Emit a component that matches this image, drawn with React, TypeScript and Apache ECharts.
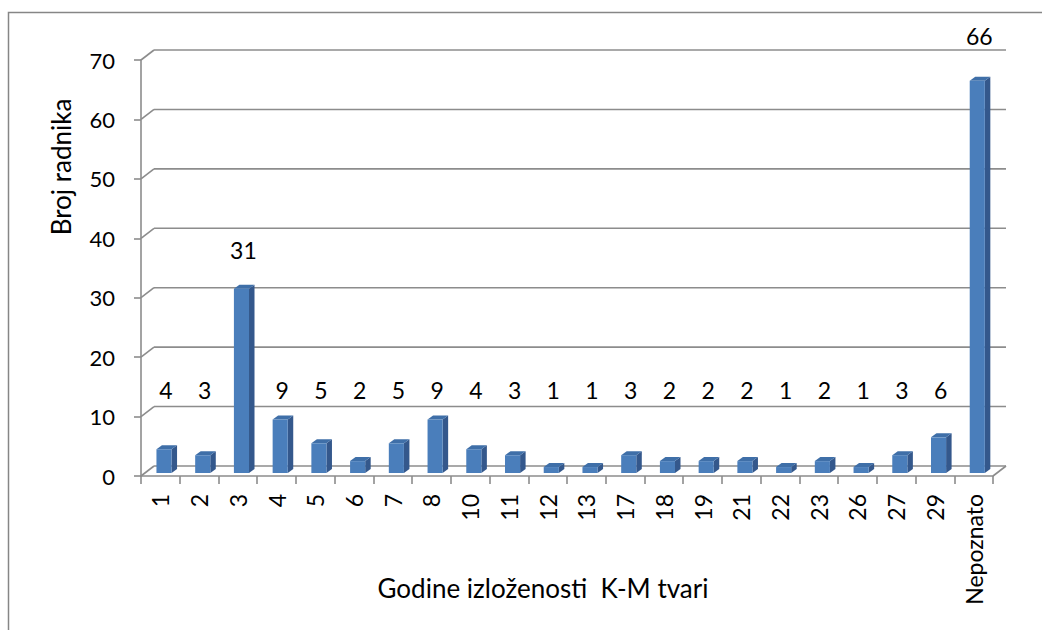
import React, { useEffect, useRef } from "react";
import * as echarts from "echarts";

const categories = ["1", "2", "3", "4", "5", "6", "7", "8", "10", "11", "12", "13", "17", "18", "19", "21", "22", "23", "26", "27", "29", "Nepoznato"];
const values = [4, 3, 31, 9, 5, 2, 5, 9, 4, 3, 1, 1, 3, 2, 2, 2, 1, 2, 1, 3, 6, 66];
const yTicks = [0, 10, 20, 30, 40, 50, 60, 70];
const yAxisTitle = "Broj radnika";
const xAxisTitle = "Godine izloženosti  K-M tvari";

const FONT = "Lato";
const GRID_COLOR = "#8c8c8c";
const WALL_DX = 13;
const WALL_DY = -10;

export default function App() {
  const ref = useRef<HTMLDivElement>(null);
  useEffect(() => {
    if (!ref.current) return;
    const chart = echarts.init(ref.current, undefined, { renderer: "svg" });

    const renderWall = (params: any, api: any) => {
      const v = api.value(1);
      const cs = params.coordSys;
      const y = api.coord([0, v])[1];
      const x0 = cs.x;
      const x1 = cs.x + cs.width;
      const style = { stroke: GRID_COLOR, lineWidth: 1.6, fill: null };
      const children: any[] = [
        { type: "line", shape: { x1: x0, y1: y, x2: x0 + WALL_DX, y2: y + WALL_DY }, style },
        { type: "line", shape: { x1: x0 + WALL_DX, y1: y + WALL_DY, x2: x1 + WALL_DX, y2: y + WALL_DY }, style },
      ];
      if (v === 0) {
        children.push({ type: "line", shape: { x1: x1, y1: y, x2: x1 + WALL_DX, y2: y + WALL_DY }, style });
      }
      return { type: "group", children };
    };

    const renderBar = (params: any, api: any) => {
      const i = api.value(0);
      const v = api.value(1);
      const base = api.coord([i, 0]);
      const top = api.coord([i, v]);
      const bw = api.size([1, 0])[0];
      const w = bw * 0.39;
      const shiftX = WALL_DX * 0.28;
      const shiftY = WALL_DY * 0.3;
      const cx = base[0] + shiftX;
      const xl = cx - w / 2;
      const xr = cx + w / 2;
      const yb = base[1] + shiftY;
      const yt = top[1] + shiftY;
      const ddx = 5.5;
      const ddy = -4;
      const labelVal = v < 15 ? 14.5 : v * 1.03 + 6.1;
      const ly = api.coord([i, labelVal])[1];
      return {
        type: "group",
        children: [
          { type: "polygon", shape: { points: [[xr, yb], [xr + ddx, yb + ddy], [xr + ddx, yt + ddy], [xr, yt]] }, style: { fill: "#34588c" } },
          { type: "polygon", shape: { points: [[xl, yt], [xl + ddx, yt + ddy], [xr + ddx, yt + ddy], [xr, yt]] }, style: { fill: "#3f6fa8" } },
          { type: "rect", shape: { x: xl, y: yt, width: w, height: yb - yt }, style: { fill: "#4a7ebb" } },
          { type: "text", x: cx + 2, y: ly, style: { text: String(v), fill: "#000", fontSize: 23, fontFamily: FONT, align: "center", verticalAlign: "middle" } },
        ],
      };
    };

    chart.setOption({
      animation: false,
      backgroundColor: "#ffffff",
      grid: { left: 141, right: 49, top: 60, bottom: 154 },
      xAxis: {
        type: "category",
        data: categories,
        axisLine: { show: true, lineStyle: { color: GRID_COLOR, width: 1.6 } },
        axisTick: { show: true, length: 8, lineStyle: { color: GRID_COLOR, width: 1.6 } },
        axisLabel: { rotate: 90, margin: 18, fontSize: 23, color: "#000", fontFamily: FONT },
        splitLine: { show: false },
      },
      yAxis: {
        type: "value",
        min: 0,
        max: 70,
        interval: 10,
        axisLine: { show: true, lineStyle: { color: GRID_COLOR, width: 1.6 } },
        axisTick: { show: true, length: 7, lineStyle: { color: GRID_COLOR, width: 1.6 } },
        axisLabel: { margin: 26, fontSize: 22, color: "#000", fontFamily: FONT },
        splitLine: { show: false },
      },
      graphic: [
        { type: "rect", shape: { x: 8.5, y: 12.5, width: 1200, height: 800 }, style: { fill: null, stroke: "#868686", lineWidth: 1.5 }, silent: true, z: -10 },
        { type: "text", x: 61, y: 167, rotation: Math.PI / 2, style: { text: yAxisTitle, fill: "#000", fontSize: 26, fontFamily: FONT, align: "center", verticalAlign: "middle" } },
        { type: "text", x: 543, y: 588, style: { text: xAxisTitle, fill: "#000", fontSize: 26, fontFamily: FONT, align: "center", verticalAlign: "middle" } },
      ],
      series: [
        { type: "custom", data: yTicks.map((t) => [0, t]), renderItem: renderWall, encode: { x: 0, y: 1 }, silent: true, z: 1 },
        { type: "custom", data: values.map((v, i) => [i, v]), renderItem: renderBar, encode: { x: 0, y: 1 }, z: 3 },
      ],
    });
    return () => chart.dispose();
  }, []);
  return <div ref={ref} style={{ position: "absolute", left: 0, top: 0, width: 1042, height: 630 }} />;
}
